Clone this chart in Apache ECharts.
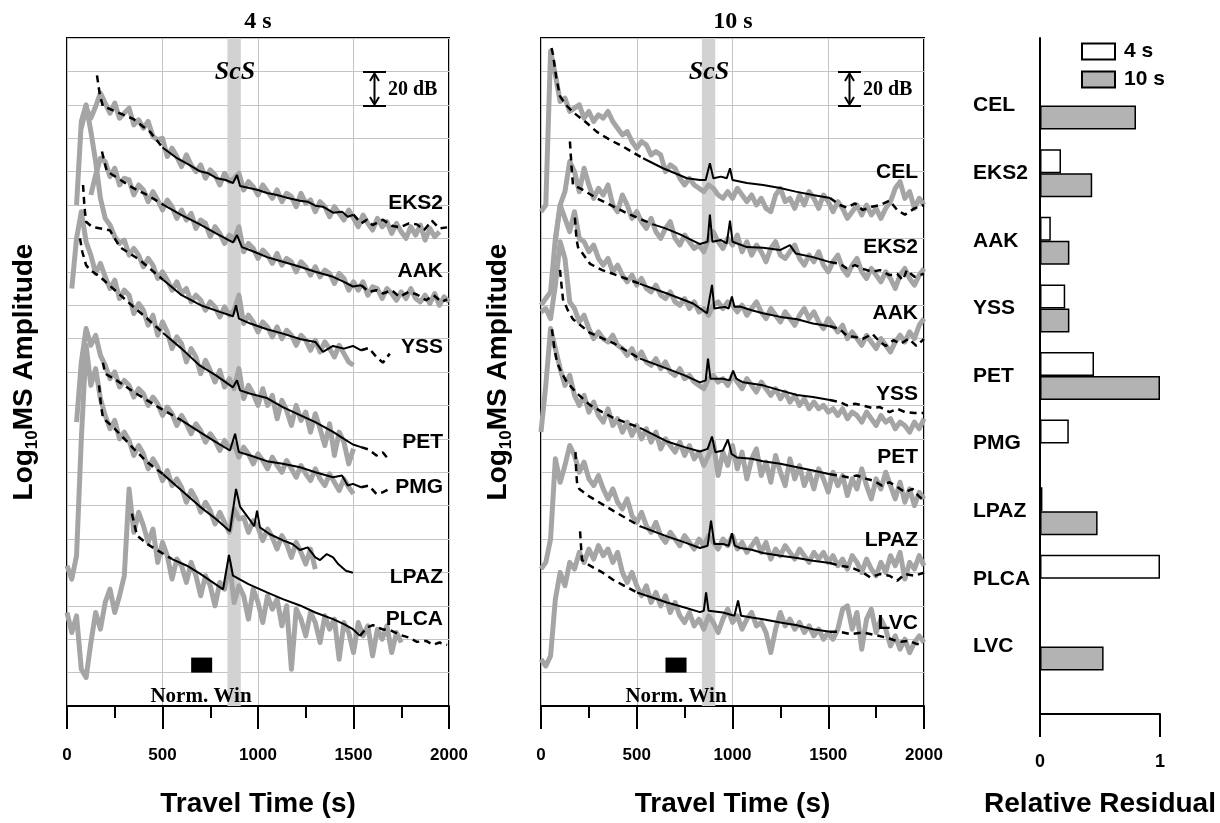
<!DOCTYPE html>
<html><head><meta charset="utf-8">
<script src="https://cdn.jsdelivr.net/npm/echarts@6/dist/echarts.min.js"></script>
<style>html,body{margin:0;padding:0;background:#fff}#c{width:1220px;height:823px}</style>
</head><body><div id="c"></div>
<script>
// ---------------- DATA ----------------
const T = [0,25,50,75,100,125,150,175,
200,225,250,275,300,325,350,375,
400,425,450,475,500,525,550,575,
600,625,650,675,700,725,750,775,
800,825,850,875,900,925,950,975,
1000,1025,1050,1075,1100,1125,1150,1175,
1200,1225,1250,1275,1300,1325,1350,1375,
1400,1425,1450,1475,1500,1525,1550,1575,
1600,1625,1650,1675,1700,1725,1750,1775,
1800,1825,1850,1875,1900,1925,1950,1975,
2000];

const SCS_WIN = [840, 910];
const NORM_WIN = [650, 760];
const FIT_WIN = [500, 1500];

// ---- 4 s panel: observed envelopes (gray), on T grid ----
const L_obs_EKS2 = [null,null,null,17.3,17.9,17.6,17.95,18.35,
18.05,17.75,18.05,17.6,17.75,17.9,17.4,17.55,
17.3,17.5,17.05,16.95,17.0,16.45,16.7,16.45,
16.15,16.5,16.2,16.0,16.2,15.8,16.05,15.9,
15.6,15.95,15.7,15.8,15.95,15.45,15.7,15.55,
15.3,15.6,15.4,15.2,15.45,15.1,15.35,15.25,
14.95,15.35,15.05,15.15,14.8,15.1,14.95,14.65,
14.95,14.75,14.55,14.85,14.6,14.35,14.7,14.45,
14.25,14.6,14.35,14.5,14.15,14.45,14.2,14.0,
14.35,14.1,14.4,13.95,14.3,14.05,14.2,null,
null];
const L_obs_AAK = [null,null,null,null,null,15.3,15.9,16.4,
16.3,15.85,16.1,15.6,15.8,15.75,15.3,15.6,
15.45,15.1,15.4,15.15,14.85,15.15,14.95,14.6,
14.85,14.55,14.75,14.3,14.55,14.45,14.05,14.35,
14.15,13.85,14.1,13.95,14.35,13.6,13.85,13.7,
13.4,13.65,13.5,13.25,13.55,13.2,13.4,13.3,
13.0,13.3,13.15,12.9,13.15,12.85,13.05,12.95,
12.65,12.95,12.8,12.45,12.7,12.45,12.7,12.3,
12.55,12.5,12.2,12.5,12.35,12.15,12.4,12.2,
12.5,12.2,12.1,12.3,12.05,12.35,12.0,12.25,
12.1];
const L_obs_YSS = [null,null,15.0,17.5,18.0,17.2,16.3,15.2,
14.6,14.4,14.05,13.85,13.95,13.5,13.7,13.5,
13.15,13.4,13.2,12.8,13.0,12.75,12.45,12.7,
12.35,12.5,12.1,12.3,12.15,11.85,12.1,11.95,
11.65,11.95,11.7,11.85,12.3,11.45,11.7,11.5,
11.2,11.5,11.35,11.05,11.35,11.0,11.25,11.1,
10.8,11.1,10.95,10.65,10.95,10.6,10.9,10.7,
10.45,10.8,10.55,10.3,10.2,null,null,null,
null,null,null,null,null,null,null,null,
null,null,null,null,null,null,null,null,
null];
const L_obs_PET = [null,12.5,14.0,14.8,13.9,13.5,12.95,13.25,
12.85,12.5,12.75,12.2,12.45,12.3,11.75,12.05,
11.85,11.4,11.7,11.1,11.5,11.2,10.7,11.05,
10.85,10.3,10.7,10.45,9.95,10.35,10.05,9.7,
10.05,9.55,9.8,9.5,10.1,9.2,9.6,9.35,
9.0,9.5,9.0,9.3,8.6,9.15,8.85,8.4,
9.0,8.55,8.8,8.2,8.75,8.3,7.8,8.45,
7.5,8.2,7.9,7.25,7.7,null,null,null,
null,null,null,null,null,null,null,null,
null,null,null,null,null,null,null,null,
null];
const L_obs_PMG = [null,null,8.5,10.3,11.3,10.8,11.1,10.5,
10.2,9.8,10.0,9.55,9.75,9.6,9.25,9.5,
9.35,9.0,9.25,9.05,8.7,8.95,8.75,8.4,
8.7,8.45,8.15,8.45,8.25,7.9,8.15,7.95,
7.65,7.95,7.7,7.85,7.45,7.75,7.55,7.25,
7.55,7.35,7.1,7.45,7.2,7.0,7.35,7.1,
6.85,7.2,6.95,6.75,7.1,6.8,6.6,6.95,
6.7,6.45,6.8,6.55,6.35,null,null,null,
null,null,null,null,null,null,null,null,
null,null,null,null,null,null,null,null,
null];
const L_obs_LPAZ = [4.2,3.8,4.5,8.0,10.8,9.6,10.1,9.2,
8.7,8.3,8.55,8.0,8.2,7.95,7.5,7.8,
7.55,7.1,7.4,7.15,6.75,7.05,6.6,6.8,
6.55,6.1,6.45,6.2,5.8,6.1,5.85,5.45,
5.8,5.5,5.2,5.9,5.6,5.65,5.2,5.55,
5.35,4.95,5.3,5.05,4.7,5.1,4.85,4.45,
4.9,4.6,4.25,4.7,4.1,null,null,null,
null,null,null,null,null,null,null,null,
null,null,null,null,null,null,null,null,
null,null,null,null,null,null,null,null,
null];
const L_obs_PLCA = [2.8,2.2,2.7,1.1,0.85,1.9,2.8,2.3,
3.1,3.5,2.8,3.3,3.9,6.5,5.2,5.8,
5.4,4.9,5.3,4.3,4.9,4.5,3.8,4.4,
4.2,3.7,4.3,3.9,3.3,3.9,3.6,3.0,
3.7,3.5,4.3,3.1,3.6,3.3,2.6,3.5,
3.1,2.5,3.3,2.9,3.2,2.4,3.0,1.1,
2.9,2.6,2.1,2.8,2.5,1.9,2.7,2.3,
2.6,1.4,2.5,2.2,1.6,2.5,2.1,2.4,
1.5,2.3,2.0,2.4,1.6,2.2,1.9,null,
null,null,null,null,null,null,null,null,
null];

// ---- 4 s panel: synthetic envelopes (black), [time, value] ----
const L_syn_EKS2 = [[157,18.88],[173,18.26],[188,17.96],[262,17.78],[346,17.58],[435,17.19],[500,16.72],[576,16.4],[640,16.2],[696,16.01],[740,15.95],[785,15.8],[830,15.75],[869,15.66],[890,15.9],[906,15.57],[960,15.5],[1000,15.45],[1047,15.36],[1100,15.3],[1150,15.22],[1220,15.13],[1260,15.1],[1300,14.98],[1340,14.95],[1393,14.77],[1440,14.8],[1470,14.65],[1500,14.71],[1540,14.45],[1571,14.56],[1600,14.4],[1654,14.56],[1700,14.38],[1743,14.33],[1790,14.45],[1832,14.42],[1870,14.25],[1910,14.53],[1950,14.3],[1990,14.33]];
const L_syn_AAK = [[183,16.6],[200,16.2],[209,16.01],[280,15.75],[346,15.51],[420,15.3],[503,15.01],[600,14.7],[696,14.42],[780,14.15],[869,13.88],[890,14.1],[916,13.74],[980,13.6],[1047,13.44],[1130,13.3],[1220,13.15],[1300,13.0],[1393,12.85],[1450,12.7],[1497,12.56],[1540,12.6],[1580,12.4],[1620,12.45],[1654,12.35],[1700,12.45],[1740,12.25],[1790,12.4],[1832,12.32],[1880,12.15],[1920,12.3],[1960,12.1],[1990,12.17]];
const L_syn_YSS = [[84,15.6],[92,14.9],[100,14.5],[130,14.35],[225,14.24],[277,13.74],[382,13.35],[503,12.76],[600,12.3],[700,12.0],[800,11.8],[869,11.67],[885,12.0],[900,11.6],[960,11.45],[1047,11.28],[1130,11.15],[1220,10.99],[1300,10.9],[1340,10.6],[1393,10.78],[1450,10.7],[1497,10.78],[1540,10.65],[1580,10.72],[1620,10.45],[1654,10.28],[1690,10.55]];
const L_syn_PET = [[68,14.0],[80,13.6],[100,13.2],[120,13.06],[173,12.85],[260,12.4],[346,11.96],[420,11.6],[503,11.17],[600,10.7],[696,10.19],[780,9.9],[869,9.54],[890,9.75],[906,9.45],[960,9.35],[1047,9.22],[1130,8.95],[1220,8.71],[1300,8.5],[1393,8.21],[1450,8.0],[1497,7.83],[1540,7.75],[1580,7.68],[1620,7.5],[1654,7.59],[1675,7.44]];
const L_syn_PMG = [[188,10.28],[200,9.95],[260,9.75],[350,9.4],[420,9.15],[487,8.92],[600,8.55],[696,8.2],[780,7.9],[853,7.65],[880,8.15],[900,7.6],[960,7.5],[1047,7.33],[1130,7.25],[1220,7.15],[1300,7.0],[1393,6.85],[1440,6.9],[1470,6.6],[1497,6.65],[1540,6.55],[1580,6.6],[1620,6.35],[1654,6.4],[1690,6.5]];
const L_syn_LPAZ = [[168,9.6],[178,9.0],[188,8.63],[250,8.3],[350,7.7],[420,7.3],[503,6.94],[600,6.45],[696,5.97],[780,5.6],[853,5.23],[885,6.5],[906,5.97],[960,5.55],[980,5.38],[995,5.85],[1010,5.35],[1060,5.15],[1131,4.96],[1180,4.85],[1220,4.67],[1260,4.75],[1300,4.45],[1325,4.37],[1360,4.55],[1393,4.45],[1420,4.25],[1460,4.05],[1497,3.99]];
const L_syn_PLCA = [[340,5.76],[366,5.11],[420,4.85],[471,4.67],[550,4.4],[628,4.2],[700,3.95],[817,3.49],[848,4.52],[869,3.9],[950,3.65],[1047,3.4],[1130,3.2],[1220,3.01],[1300,2.8],[1393,2.6],[1450,2.45],[1497,2.3],[1534,2.1],[1570,2.35],[1602,2.42],[1650,2.3],[1700,2.25],[1743,2.13],[1790,2.05],[1832,1.92],[1880,1.95],[1916,1.83],[1950,1.9],[1990,1.83]];

// ---- 10 s panel: observed envelopes (gray), on T grid ----
const M_obs_CEL = [14.8,15.0,19.6,18.9,18.1,18.2,17.8,17.9,
18.0,17.6,17.8,17.5,17.7,17.6,17.8,17.5,
17.3,17.1,17.2,16.9,16.7,16.9,16.8,16.5,
16.6,16.5,16.0,16.2,16.1,15.8,15.6,15.8,
15.6,15.5,15.4,15.6,15.5,15.3,15.2,15.4,
15.2,15.5,15.3,15.1,15.3,15.0,15.2,14.9,
14.8,15.3,15.5,15.1,15.2,14.9,15.3,15.0,
15.4,15.2,14.9,15.3,15.1,14.8,15.1,14.9,
14.6,14.8,15.0,14.7,15.0,14.7,14.9,14.6,
14.9,15.1,15.5,15.7,15.2,15.4,14.9,15.2,
15.0];
const M_obs_EKS2 = [null,null,null,13.9,15.0,15.4,16.3,16.0,
15.4,16.1,15.6,15.2,15.5,15.3,15.6,15.0,
14.8,15.3,15.0,14.6,14.8,14.5,14.3,14.6,
14.2,14.0,14.3,14.5,14.0,13.8,14.1,13.9,
13.7,13.8,13.6,14.0,14.2,13.9,13.7,14.0,
13.8,14.1,13.6,13.9,13.5,13.8,13.6,13.3,
13.7,13.9,13.5,13.4,13.6,13.8,13.4,13.2,
13.5,13.3,13.6,13.2,13.0,13.3,13.5,13.1,
12.9,13.2,13.4,13.0,12.8,13.1,12.9,12.7,
13.0,12.8,12.5,12.9,13.1,12.8,12.6,12.9,
13.1];
const M_obs_AAK = [12.0,12.2,12.4,14.0,15.0,14.6,14.2,14.8,
14.0,13.9,13.6,13.8,13.4,13.2,13.4,13.0,
13.2,12.9,12.7,12.9,12.6,12.8,12.5,12.4,
12.6,12.3,12.2,12.4,12.1,12.0,12.2,11.9,
12.1,11.8,11.9,11.7,12.0,12.1,11.9,12.1,
12.0,11.8,12.0,11.7,11.9,12.1,11.8,11.6,
11.9,11.7,11.5,11.8,11.6,11.4,11.7,11.9,
11.6,11.8,11.5,11.3,11.6,11.4,11.2,11.4,
11.0,11.2,11.0,10.8,11.1,10.9,10.7,11.0,
10.8,10.6,10.9,11.1,10.9,11.2,11.0,11.4,
11.6];
const M_obs_YSS = [11.8,11.9,11.6,12.6,13.9,13.4,12.1,11.9,
11.5,11.7,11.3,11.0,11.2,11.0,10.9,11.1,
10.8,10.7,10.5,10.7,10.4,10.6,10.3,10.2,
10.4,10.1,10.3,10.0,9.9,10.1,9.8,9.9,
9.7,9.6,9.5,9.8,9.9,9.7,9.8,9.6,
9.9,9.7,9.5,9.8,9.6,9.4,9.7,9.5,
9.3,9.5,9.2,9.4,9.1,9.3,9.0,9.2,
8.9,9.1,8.9,9.0,8.8,8.9,8.7,8.9,
8.6,8.8,8.7,8.5,8.8,8.6,8.4,8.7,
8.5,8.6,8.3,8.5,8.4,8.2,8.5,8.3,
8.6];
const M_obs_PET = [8.2,9.6,11.3,10.7,10.1,9.6,9.9,9.3,
9.0,9.3,8.8,9.1,8.7,8.5,8.9,8.4,
8.6,8.2,8.5,8.1,8.4,8.0,8.3,7.9,
8.2,7.7,8.0,7.8,7.6,7.9,7.5,7.8,
7.4,7.6,7.2,7.5,7.9,6.9,7.6,7.2,
7.8,7.1,7.6,6.8,7.4,7.7,6.9,7.3,
6.7,7.5,7.0,6.6,7.4,6.8,7.2,6.6,
7.0,6.5,7.1,6.8,6.4,7.0,6.6,6.9,
6.3,6.8,6.5,7.1,6.6,6.2,6.8,6.5,
7.0,6.6,6.2,6.7,6.1,6.5,6.0,6.4,
6.2];
const M_obs_LPAZ = [4.1,4.3,5.0,7.4,6.7,7.2,7.8,7.5,
7.0,7.3,6.8,6.6,6.9,6.5,6.2,6.5,
6.1,5.9,6.2,5.7,5.5,5.8,5.4,5.2,
5.5,5.1,4.9,5.2,5.0,4.8,5.1,4.9,
4.7,5.0,4.8,5.1,4.9,4.7,5.0,4.8,
5.1,4.7,4.9,4.6,4.8,5.0,4.6,4.9,
4.4,4.7,4.5,4.8,4.6,4.4,4.7,4.5,
4.3,4.6,4.4,4.6,4.3,4.5,4.2,4.4,
4.1,4.5,4.3,4.0,4.4,4.1,3.9,4.3,
4.0,4.5,4.2,4.6,3.8,4.3,4.1,4.5,
4.2];
const M_obs_LVC = [1.4,1.2,1.5,3.2,4.0,3.6,4.3,4.1,
4.6,4.3,4.7,4.4,4.8,4.5,4.7,4.3,
4.6,4.0,3.7,4.0,3.6,3.3,3.6,3.1,
3.4,3.0,3.3,2.8,3.1,2.7,2.5,2.8,
2.4,2.6,2.3,2.7,2.5,2.2,2.6,2.9,
2.5,2.7,2.3,2.6,2.8,2.4,2.5,2.2,
1.6,2.3,2.8,2.4,2.6,2.3,2.5,2.2,
2.4,2.1,2.3,2.0,2.2,2.0,2.3,2.9,
3.0,2.3,2.8,1.7,2.6,2.9,2.2,2.6,
2.3,1.8,2.1,1.7,2.0,1.6,1.9,2.1,
1.9];

// ---- 10 s panel: synthetic envelopes (black), [time, value] ----
const M_syn_CEL = [[55,19.7],[63,19.5],[80,18.8],[99,18.26],[130,18.0],[167,17.78],[230,17.5],[292,17.19],[360,16.95],[428,16.75],[533,16.4],[637,16.1],[700,15.95],[762,15.8],[830,15.75],[860,15.75],[882,16.25],[900,15.8],[940,15.85],[970,15.8],[987,16.1],[1000,15.75],[1075,15.66],[1160,15.6],[1248,15.51],[1330,15.4],[1420,15.3],[1509,15.21],[1560,15.0],[1598,14.92],[1640,15.05],[1680,14.85],[1728,14.95],[1770,15.0],[1820,15.13],[1860,14.85],[1900,14.71],[1950,14.9],[2000,15.0]];
const M_syn_EKS2 = [[151,16.9],[160,16.1],[167,15.6],[204,15.5],[292,15.2],[380,14.95],[465,14.71],[585,14.42],[650,14.3],[726,14.12],[830,13.83],[870,13.9],[882,14.71],[895,13.9],[940,13.95],[970,13.85],[987,14.53],[1000,13.9],[1075,13.74],[1160,13.72],[1248,13.65],[1300,13.8],[1330,13.55],[1420,13.44],[1509,13.29],[1560,13.24],[1598,13.1],[1640,13.2],[1680,13.09],[1730,13.0],[1770,13.05],[1820,12.9],[1860,12.94],[1890,12.75],[1910,13.05],[1950,12.85],[2000,12.94]];
const M_syn_AAK = [[177,14.62],[185,14.0],[193,13.74],[256,13.24],[320,13.05],[376,12.94],[517,12.64],[658,12.35],[794,12.05],[867,11.76],[893,12.61],[905,11.9],[960,11.95],[980,11.9],[997,12.26],[1010,11.95],[1039,11.96],[1100,11.85],[1159,11.76],[1250,11.65],[1337,11.58],[1420,11.45],[1509,11.37],[1560,11.28],[1598,11.08],[1640,11.05],[1680,10.99],[1730,11.14],[1770,10.9],[1800,10.78],[1840,10.95],[1880,10.85],[1920,11.0],[1960,10.78],[2000,10.99]];
const M_syn_YSS = [[99,13.06],[107,12.6],[115,12.17],[140,11.85],[167,11.58],[256,11.17],[376,10.87],[517,10.4],[658,10.1],[750,9.9],[830,9.69],[860,9.75],[872,10.4],[885,9.8],[950,9.8],[985,9.75],[1003,10.04],[1020,9.8],[1055,9.69],[1159,9.6],[1250,9.45],[1337,9.31],[1420,9.25],[1509,9.16],[1560,9.1],[1598,9.0],[1640,9.05],[1680,9.0],[1730,8.92],[1770,8.95],[1820,8.8],[1860,8.9],[1900,8.8],[1950,8.77],[2000,8.77]];
const M_syn_PET = [[57,11.28],[70,10.7],[84,10.28],[110,9.95],[136,9.69],[190,9.35],[256,9.01],[320,8.8],[376,8.63],[517,8.33],[658,7.92],[750,7.75],[830,7.62],[870,7.7],[893,8.07],[910,7.6],[950,7.65],[976,7.98],[995,7.55],[1023,7.44],[1100,7.4],[1159,7.33],[1250,7.25],[1337,7.15],[1420,7.05],[1509,6.94],[1560,6.9],[1600,6.85],[1650,6.9],[1700,6.8],[1740,6.74],[1780,6.6],[1820,6.7],[1860,6.56],[1900,6.4],[1940,6.5],[1970,6.3],[2000,6.14]];
const M_syn_LPAZ = [[180,7.6],[184,7.0],[188,6.7],[200,6.5],[256,6.26],[376,5.85],[517,5.38],[658,5.08],[750,4.9],[830,4.73],[870,4.8],[888,5.55],[905,4.85],[950,4.85],[980,4.8],[997,5.17],[1012,4.8],[1039,4.73],[1100,4.68],[1159,4.58],[1250,4.5],[1337,4.43],[1420,4.35],[1509,4.28],[1560,4.2],[1620,4.15],[1680,4.0],[1720,3.85],[1770,3.95],[1820,3.9],[1860,3.75],[1900,3.95],[1950,3.9],[2000,3.99]];
const M_syn_LVC = [[204,5.23],[210,4.7],[214,4.37],[256,4.2],[320,4.0],[376,3.78],[501,3.4],[580,3.25],[658,3.1],[750,2.95],[830,2.81],[850,2.85],[862,3.4],[875,2.85],[950,2.8],[1010,2.7],[1029,3.16],[1045,2.7],[1100,2.65],[1159,2.6],[1250,2.5],[1337,2.42],[1420,2.3],[1509,2.22],[1560,2.22],[1620,2.15],[1680,2.2],[1743,2.13],[1800,2.05],[1830,2.0],[1870,1.92],[1920,1.95],[1960,1.86],[2000,1.86]];

// ---- station names ----
const L_STATIONS = ['EKS2','AAK','YSS','PET','PMG','LPAZ','PLCA'];
const M_STATIONS = ['CEL','EKS2','AAK','YSS','PET','LPAZ','LVC'];

// ---- relative residual bars ----
const BAR_STATIONS = ['CEL','EKS2','AAK','YSS','PET','PMG','LPAZ','PLCA','LVC'];
const RES_4S  = [null,0.175,0.09,0.21,0.45,0.24,0.02,1.0,null];
const RES_10S = [0.80,0.435,0.245,0.245,1.0,null,0.48,null,0.53];

// ---------------- LAYOUT / STYLE ----------------
const SANS = "'Liberation Sans', Arial, sans-serif";
const SERIF = "'Liberation Serif', 'Times New Roman', serif";
const GRAY = '#a5a5a5';
const L_LABEL_Y = [203,271,347,442,487,577,619];
const M_LABEL_Y = [172,247,313,394,457,540,623];

const L_OBS = [L_obs_EKS2,L_obs_AAK,L_obs_YSS,L_obs_PET,L_obs_PMG,L_obs_LPAZ,L_obs_PLCA];
const L_SYN = [L_syn_EKS2,L_syn_AAK,L_syn_YSS,L_syn_PET,L_syn_PMG,L_syn_LPAZ,L_syn_PLCA];
const M_OBS = [M_obs_CEL,M_obs_EKS2,M_obs_AAK,M_obs_YSS,M_obs_PET,M_obs_LPAZ,M_obs_LVC];
const M_SYN = [M_syn_CEL,M_syn_EKS2,M_syn_AAK,M_syn_YSS,M_syn_PET,M_syn_LPAZ,M_syn_LVC];

function obsData(arr){ const out=[]; T.forEach((t,i)=>{ if(arr[i]!=null) out.push([t,arr[i]]); }); return out; }
function splitSyn(arr){
  const a = arr.findIndex(p=>p[0]>=FIT_WIN[0]);
  const b = arr.findIndex(p=>p[0]>=FIT_WIN[1]);
  const ia = a<0 ? arr.length-1 : a;
  const ib = b<0 ? arr.length-1 : b;
  return {early: arr.slice(0, ia+1), mid: arr.slice(ia, ib+1), late: b<0 ? [] : arr.slice(ib)};
}
function lineS(gi, data, style, z){
  return {type:'line', xAxisIndex:gi, yAxisIndex:gi, data:data, symbol:'none', showSymbol:false,
    silent:true, animation:false, lineStyle:style, z:z, clip:true};
}
const series = [];
function addPanel(gi, OBS, SYN){
  series.push({type:'line', xAxisIndex:gi, yAxisIndex:gi, data:[], silent:true, z:1,
    markArea:{silent:true, data:[
      [{xAxis:SCS_WIN[0], itemStyle:{color:'#d2d2d2'}},{xAxis:SCS_WIN[1]}],
      [{coord:[NORM_WIN[0],1.0], itemStyle:{color:'#000'}},{coord:[NORM_WIN[1],1.45]}]
    ]}});
  OBS.forEach(o=>series.push(lineS(gi, obsData(o), {color:GRAY, width:5, join:'round'}, 3)));
  SYN.forEach(s=>{
    const p = splitSyn(s);
    series.push(lineS(gi, p.early, {color:'#000', width:2.5, type:[7,5]}, 4));
    series.push(lineS(gi, p.mid, {color:'#000', width:2}, 4));
    if(p.late.length) series.push(lineS(gi, p.late, {color:'#000', width:2.5, type:[7,5]}, 4));
  });
}
addPanel(0, L_OBS, L_SYN);
addPanel(1, M_OBS, M_SYN);

series.push({type:'bar', name:'4 s', xAxisIndex:2, yAxisIndex:2, data:[null].concat(RES_4S,[null]),
  barWidth:24, barGap:'0%', itemStyle:{color:'#ffffff', borderColor:'#000', borderWidth:1.5}, z:3, animation:false});
series.push({type:'bar', name:'10 s', xAxisIndex:2, yAxisIndex:2, data:[null].concat(RES_10S,[null]),
  barWidth:24, barGap:'0%', itemStyle:{color:'#b3b3b3', borderColor:'#000', borderWidth:1.5}, z:3, animation:false});

const YNAME = '{a|Log}{s|10}{a|MS Amplitude}';
const yRich = {a:{fontSize:28, fontWeight:'bold', fontFamily:SANS, color:'#000', lineHeight:34, verticalAlign:'middle'},
               s:{fontSize:17, fontWeight:'bold', fontFamily:SANS, color:'#000', lineHeight:17, verticalAlign:'bottom'}};

function xAx(gi){ return {gridIndex:gi, type:'value', min:0, max:2000, interval:500,
  axisLine:{show:true, onZero:false, lineStyle:{color:'#000', width:2}},
  axisTick:{show:true, length:23, lineStyle:{color:'#000', width:2}},
  minorTick:{show:true, splitNumber:2, length:12, lineStyle:{color:'#000', width:2}},
  axisLabel:{margin:41, fontSize:17, fontWeight:'bold', color:'#000', fontFamily:SANS, formatter:v=>String(v)},
  splitLine:{show:true, lineStyle:{color:'#c4c4c4', width:1}},
  name:'Travel Time (s)', nameLocation:'middle', nameGap:84,
  nameTextStyle:{fontSize:28, fontWeight:'bold', color:'#000', fontFamily:SANS}}; }
function yAx(gi){ return {gridIndex:gi, type:'value', min:0, max:20, interval:1,
  axisLine:{show:false}, axisTick:{show:false}, axisLabel:{show:false},
  splitLine:{show:true, lineStyle:{color:'#c4c4c4', width:1}},
  name:YNAME, nameLocation:'middle', nameGap:26, nameRotate:90,
  nameTextStyle:{rich:yRich}}; }

const graphic = [];
function txt(x,y,text,font,align){ graphic.push({type:'text', x:x, y:y, silent:true, z:100,
  style:{text:text, font:font, fill:'#000', textAlign:align||'center', textVerticalAlign:'middle'}}); }
txt(258,22,'4 s','bold 24px '+SERIF);
txt(733,22,'10 s','bold 24px '+SERIF);
txt(235,72,'ScS','italic bold 26px '+SERIF);
txt(709,72,'ScS','italic bold 26px '+SERIF);
txt(388,90,'20 dB','bold 20px '+SERIF,'left');
txt(863,90,'20 dB','bold 20px '+SERIF,'left');
txt(201,697,'Norm. Win','bold 21px '+SERIF);
txt(676,697,'Norm. Win','bold 21px '+SERIF);
L_STATIONS.forEach((s,i)=>txt(443,L_LABEL_Y[i],s,'bold 21px '+SANS,'right'));
M_STATIONS.forEach((s,i)=>txt(918,M_LABEL_Y[i],s,'bold 21px '+SANS,'right'));
function dbMarker(x0,x1){
  const xm=(x0+x1)/2, st={stroke:'#000', lineWidth:2, fill:null};
  graphic.push({type:'line', z:100, shape:{x1:x0,y1:72,x2:x1,y2:72}, style:st, silent:true});
  graphic.push({type:'line', z:100, shape:{x1:x0,y1:106,x2:x1,y2:106}, style:st, silent:true});
  graphic.push({type:'line', z:100, shape:{x1:xm,y1:74,x2:xm,y2:104}, style:st, silent:true});
  graphic.push({type:'polyline', z:100, shape:{points:[[xm-4.5,81],[xm,73.5],[xm+4.5,81]]}, style:st, silent:true});
  graphic.push({type:'polyline', z:100, shape:{points:[[xm-4.5,97],[xm,104.5],[xm+4.5,97]]}, style:st, silent:true});
}
dbMarker(363,386);
dbMarker(838,861);

const chart = echarts.init(document.getElementById('c'), null, {renderer:'canvas'});
chart.setOption({
  animation:false,
  backgroundColor:'#fff',
  grid:[
    {left:67, top:38, width:382, height:677, show:true, borderColor:'#000', borderWidth:2, backgroundColor:'transparent'},
    {left:541, top:38, width:383, height:677, show:true, borderColor:'#000', borderWidth:2, backgroundColor:'transparent'},
    {left:1040, top:38, width:120, height:677}
  ],
  xAxis:[xAx(0), xAx(1),
    {gridIndex:2, type:'value', min:0, max:1, interval:1,
     axisLine:{show:true, onZero:false, lineStyle:{color:'#000', width:2}},
     axisTick:{show:true, length:23, lineStyle:{color:'#000', width:2}},
     axisLabel:{margin:39, fontSize:18, fontWeight:'bold', color:'#000', fontFamily:SANS},
     splitLine:{show:false},
     name:'Relative Residual', nameLocation:'middle', nameGap:76,
     nameTextStyle:{fontSize:28, fontWeight:'bold', color:'#000', fontFamily:SANS}}],
  yAxis:[yAx(0), yAx(1),
    {gridIndex:2, type:'category', data:[''].concat(BAR_STATIONS,['']), inverse:true, boundaryGap:false,
     axisLine:{show:true, onZero:false, lineStyle:{color:'#000', width:2}}, axisTick:{show:false},
     axisLabel:{align:'left', margin:67, fontSize:21, fontWeight:'bold', color:'#000', fontFamily:SANS},
     splitLine:{show:false}}],
  legend:{data:['4 s','10 s'], orient:'vertical', left:1081, top:41, itemWidth:33, itemHeight:16, itemGap:7,
    icon:'rect', padding:0, textStyle:{fontSize:21, fontWeight:'bold', color:'#000', fontFamily:SANS, padding:[0,0,0,4]}},
  series:series,
  graphic:graphic
});
</script></body></html>
